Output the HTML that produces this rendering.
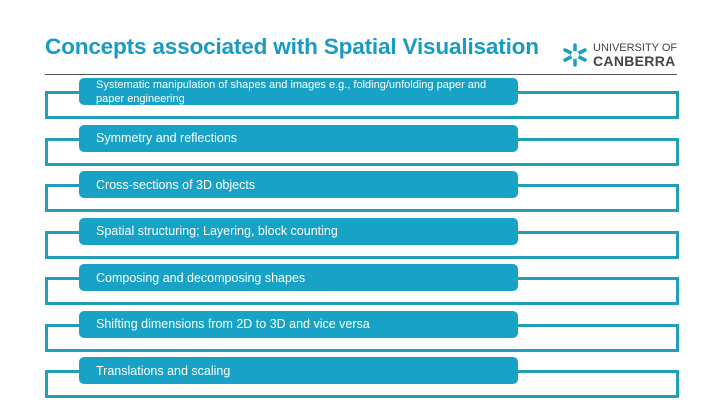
<!DOCTYPE html>
<html><head><meta charset="utf-8"><style>
body{margin:0;width:720px;height:405px;background:#fff;position:relative;overflow:hidden;font-family:"Liberation Sans",sans-serif}
.title{position:absolute;left:45px;top:34px;font-size:22.6px;font-weight:bold;color:#1a9bc3;letter-spacing:-0.2px;white-space:nowrap}
.rule{position:absolute;left:45px;top:74px;width:632px;height:1px;background:#555}
.out{position:absolute;left:45px;width:628px;height:22px;border:3px solid #229fb8;box-sizing:content-box}
.box{position:absolute;left:79px;width:439px;height:27px;background:#17a2c6;border-radius:5px;color:#fff;font-size:12.5px;box-sizing:border-box;padding-left:17px;display:flex;align-items:center;line-height:14px;white-space:nowrap}
.box.two{font-size:11px;line-height:14px}
.logo{position:absolute;left:561px;top:42px}
.l1{position:absolute;left:593px;top:42px;font-size:11px;color:#444;letter-spacing:0px;white-space:nowrap}
.l2{position:absolute;left:593px;top:53px;font-size:14px;font-weight:bold;color:#444;letter-spacing:0.3px;white-space:nowrap}
</style></head><body>
<div class="title">Concepts associated with Spatial Visualisation</div>
<div class="rule"></div>
<svg class="logo" width="28" height="26" viewBox="0 0 28 26">
<g stroke="#1aa0c0" stroke-width="3.5" stroke-linecap="round"><line x1="14" y1="3" x2="14" y2="23"/><line x1="4" y1="8" x2="24" y2="18"/><line x1="4" y1="18" x2="24" y2="8"/></g><circle cx="14" cy="13" r="4" fill="#fff"/></svg>
<div class="l1">UNIVERSITY OF</div>
<div class="l2">CANBERRA</div>
<div id="items"></div>
<script>
const labels=["Systematic manipulation of shapes and images e.g., folding/unfolding paper and\npaper engineering","Symmetry and reflections","Cross-sections of 3D objects","Spatial structuring; Layering, block counting","Composing and decomposing shapes","Shifting dimensions from 2D to 3D and vice versa","Translations and scaling"];
const c=document.getElementById('items');
labels.forEach((t,i)=>{
const top=78+i*46.5;
const o=document.createElement('div');o.className='out';o.style.top=(top+13)+'px';


c.appendChild(o);
const b=document.createElement('div');b.className='box'+(i==0?' two':'');b.style.top=top+'px';
b.style.whiteSpace=i==0?'pre':'nowrap';
b.textContent=t;


c.appendChild(b);
});
</script>
</body></html>
